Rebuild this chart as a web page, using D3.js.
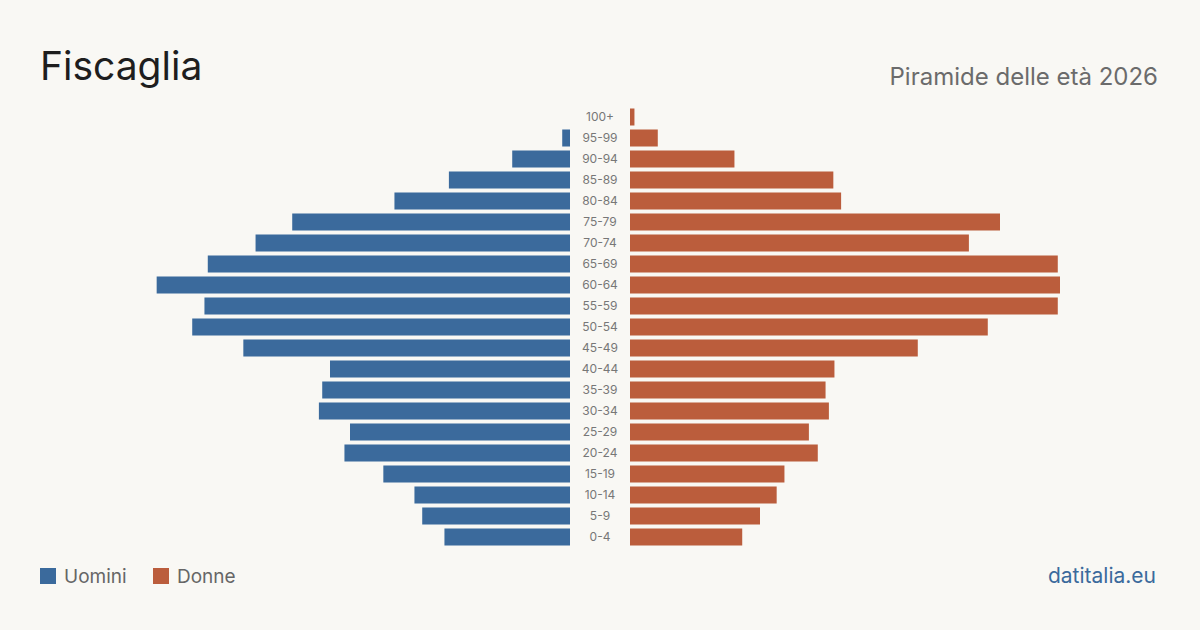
<!DOCTYPE html>
<html>
<head>
<meta charset="utf-8">
<script src="https://cdn.jsdelivr.net/npm/d3@7"></script>
<style>
  body { margin: 0; background: #f9f8f4; }
  svg { display: block; font-family: Inter, "Liberation Sans", sans-serif; }
</style>
</head>
<body>
<div id="chart"></div>
<script>
// age groups, top to bottom
const ageGroups = ["100+", "95-99", "90-94", "85-89", "80-84", "75-79", "70-74", "65-69", "60-64",
  "55-59", "50-54", "45-49", "40-44", "35-39", "30-34", "25-29", "20-24", "15-19", "10-14", "5-9", "0-4"];
const men = [0, 7, 52, 109, 158, 250, 283, 326, 372, 329, 340, 294, 216, 223, 226, 198, 203, 168, 140, 133, 113];
const women = [4, 25, 94, 183, 190, 333, 305, 385, 387, 385, 322, 259, 184, 176, 179, 161, 169, 139, 132, 117, 101];
const legendLabels = ["Uomini", "Donne"];

const width = 1200, height = 630;
const blue = "#3b6a9c", orange = "#bb5d3c";
const centerLeft = 570, centerRight = 630, halfWidth = 430;

const svg = d3.select("#chart").append("svg")
    .attr("width", width)
    .attr("height", height);

svg.append("rect").attr("width", width).attr("height", height).attr("fill", "#f9f8f4");

const y = d3.scaleBand()
    .domain(ageGroups)
    .range([106.5, 547.5])
    .paddingInner(0.19)
    .paddingOuter(0.095);

const x = d3.scaleLinear()
    .domain([0, d3.max(men.concat(women))])
    .range([0, halfWidth]);

// men bars (left)
svg.append("g").selectAll("rect")
    .data(ageGroups)
    .enter().append("rect")
    .attr("x", (d, i) => centerLeft - x(men[i]))
    .attr("y", d => y(d))
    .attr("width", (d, i) => x(men[i]))
    .attr("height", y.bandwidth())
    .attr("fill", blue);

// women bars (right)
svg.append("g").selectAll("rect")
    .data(ageGroups)
    .enter().append("rect")
    .attr("x", centerRight)
    .attr("y", d => y(d))
    .attr("width", (d, i) => x(women[i]))
    .attr("height", y.bandwidth())
    .attr("fill", orange);

// age labels
svg.append("g").selectAll("text")
    .data(ageGroups)
    .enter().append("text")
    .attr("x", (centerLeft + centerRight) / 2)
    .attr("y", d => y(d) + y.bandwidth() / 2)
    .attr("dy", "0.35em")
    .attr("text-anchor", "middle")
    .style("font-size", "12px")
    .attr("fill", "#777")
    .text(d => d);

// title
svg.append("text")
    .attr("x", 40)
    .attr("y", 80)
    .style("font-size", "39px")
    .attr("fill", "#1e1e1e")
    .text("Fiscaglia");

svg.append("text")
    .attr("x", 1158)
    .attr("y", 85)
    .attr("text-anchor", "end")
    .style("font-size", "24px")
    .attr("fill", "#6b6b6b")
    .text("Piramide delle età 2026");

// legend
const legend = svg.append("g");
const legendX = [40, 153];
legend.selectAll("rect")
    .data(legendLabels)
    .enter().append("rect")
    .attr("x", (d, i) => legendX[i])
    .attr("y", 568)
    .attr("width", 16)
    .attr("height", 16)
    .attr("fill", (d, i) => i === 0 ? blue : orange);

legend.selectAll("text")
    .data(legendLabels)
    .enter().append("text")
    .attr("x", (d, i) => legendX[i] + 24)
    .attr("y", 583)
    .style("font-size", "19px")
    .attr("fill", "#666")
    .text(d => d);

svg.append("text")
    .attr("x", 1156)
    .attr("y", 583)
    .attr("text-anchor", "end")
    .style("font-size", "21px")
    .attr("fill", blue)
    .text("datitalia.eu");
</script>
</body>
</html>
